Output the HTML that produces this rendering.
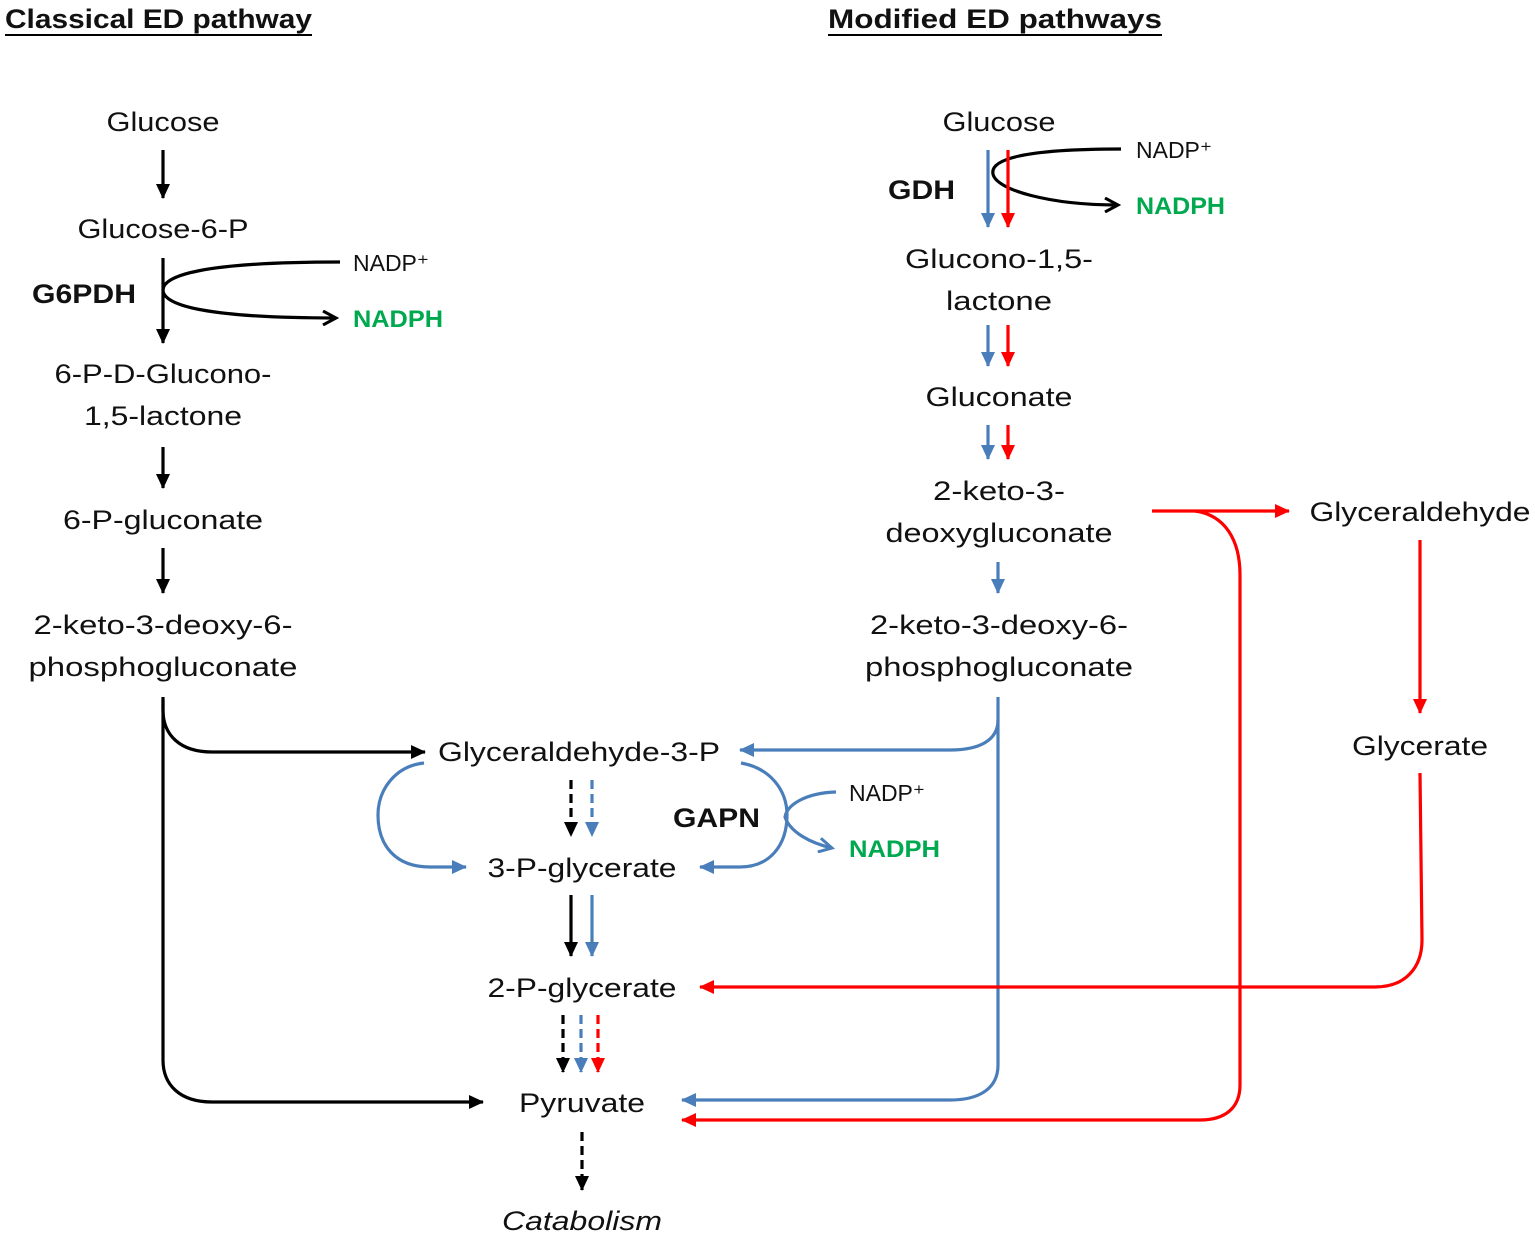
<!DOCTYPE html>
<html><head><meta charset="utf-8"><style>
html,body{margin:0;padding:0;background:#fff}
svg{display:block}
text{font-family:"Liberation Sans",sans-serif;font-size:27px;fill:#111}
.b{font-weight:bold}
.s{font-size:23px}
.g{fill:#00a84f;font-weight:bold;font-size:24px}
</style></head><body>
<svg width="1535" height="1236" viewBox="0 0 1535 1236" xmlns="http://www.w3.org/2000/svg">
<defs>
<marker id="ak" markerWidth="16" markerHeight="16" refX="14" refY="7" orient="auto" markerUnits="userSpaceOnUse"><path d="M0,0 L15,7 L0,14 z" fill="#000"/></marker>
<marker id="ab" markerWidth="16" markerHeight="16" refX="14" refY="7" orient="auto" markerUnits="userSpaceOnUse"><path d="M0,0 L15,7 L0,14 z" fill="#4a7ebb"/></marker>
<marker id="ar" markerWidth="16" markerHeight="16" refX="14" refY="7" orient="auto" markerUnits="userSpaceOnUse"><path d="M0,0 L15,7 L0,14 z" fill="#f00"/></marker>
<marker id="ok" markerWidth="18" markerHeight="16" refX="15" refY="8" orient="auto" markerUnits="userSpaceOnUse"><path d="M2,1 L15,8 L2,15" fill="none" stroke="#000" stroke-width="3"/></marker>
<marker id="ob" markerWidth="18" markerHeight="16" refX="15" refY="8" orient="auto" markerUnits="userSpaceOnUse"><path d="M2,1 L15,8 L2,15" fill="none" stroke="#4a7ebb" stroke-width="3"/></marker>
</defs>

<text x="5" y="28" class="b" textLength="307" lengthAdjust="spacingAndGlyphs">Classical ED pathway</text>
<line x1="5" y1="35" x2="312" y2="35" stroke="#000" stroke-width="2"/>
<text x="828" y="28" class="b" textLength="334" lengthAdjust="spacingAndGlyphs">Modified ED pathways</text>
<line x1="828" y1="35" x2="1162" y2="35" stroke="#000" stroke-width="2"/>

<g text-anchor="middle">
<text x="163" y="131" textLength="113" lengthAdjust="spacingAndGlyphs">Glucose</text>
<text x="163" y="238" textLength="171" lengthAdjust="spacingAndGlyphs">Glucose-6-P</text>
<text x="163" y="383" textLength="217" lengthAdjust="spacingAndGlyphs">6-P-D-Glucono-</text>
<text x="163" y="425" textLength="158" lengthAdjust="spacingAndGlyphs">1,5-lactone</text>
<text x="163" y="529" textLength="200" lengthAdjust="spacingAndGlyphs">6-P-gluconate</text>
<text x="163" y="634" textLength="259" lengthAdjust="spacingAndGlyphs">2-keto-3-deoxy-6-</text>
<text x="163" y="676" textLength="269" lengthAdjust="spacingAndGlyphs">phosphogluconate</text>
<text x="579" y="761" textLength="282" lengthAdjust="spacingAndGlyphs">Glyceraldehyde-3-P</text>
<text x="582" y="877" textLength="189" lengthAdjust="spacingAndGlyphs">3-P-glycerate</text>
<text x="582" y="997" textLength="189" lengthAdjust="spacingAndGlyphs">2-P-glycerate</text>
<text x="582" y="1112" textLength="126" lengthAdjust="spacingAndGlyphs">Pyruvate</text>
<text x="582" y="1230" font-style="italic" textLength="160" lengthAdjust="spacingAndGlyphs">Catabolism</text>
<text x="999" y="131" textLength="113" lengthAdjust="spacingAndGlyphs">Glucose</text>
<text x="999" y="268" textLength="188" lengthAdjust="spacingAndGlyphs">Glucono-1,5-</text>
<text x="999" y="310" textLength="106" lengthAdjust="spacingAndGlyphs">lactone</text>
<text x="999" y="406" textLength="147" lengthAdjust="spacingAndGlyphs">Gluconate</text>
<text x="999" y="500" textLength="132" lengthAdjust="spacingAndGlyphs">2-keto-3-</text>
<text x="999" y="542" textLength="227" lengthAdjust="spacingAndGlyphs">deoxygluconate</text>
<text x="999" y="634" textLength="258" lengthAdjust="spacingAndGlyphs">2-keto-3-deoxy-6-</text>
<text x="999" y="676" textLength="268" lengthAdjust="spacingAndGlyphs">phosphogluconate</text>
<text x="1420" y="521" textLength="221" lengthAdjust="spacingAndGlyphs">Glyceraldehyde</text>
<text x="1420" y="755" textLength="136" lengthAdjust="spacingAndGlyphs">Glycerate</text>
</g>

<text x="32" y="303" class="b" textLength="104" lengthAdjust="spacingAndGlyphs">G6PDH</text>
<text x="353" y="271" class="s">NADP⁺</text>
<text x="353" y="327" class="g" textLength="90" lengthAdjust="spacingAndGlyphs">NADPH</text>
<text x="888" y="199" class="b" textLength="67" lengthAdjust="spacingAndGlyphs">GDH</text>
<text x="1136" y="158" class="s">NADP⁺</text>
<text x="1136" y="214" class="g" textLength="89" lengthAdjust="spacingAndGlyphs">NADPH</text>
<text x="673" y="827" class="b" textLength="87" lengthAdjust="spacingAndGlyphs">GAPN</text>
<text x="849" y="801" class="s">NADP⁺</text>
<text x="849" y="857" class="g" textLength="91" lengthAdjust="spacingAndGlyphs">NADPH</text>

<g fill="none" stroke-width="3.2">
<g stroke="#000">
<line x1="163" y1="150" x2="163" y2="198" marker-end="url(#ak)"/>
<line x1="163" y1="258" x2="163" y2="343" marker-end="url(#ak)"/>
<line x1="163" y1="447" x2="163" y2="488" marker-end="url(#ak)"/>
<line x1="163" y1="548" x2="163" y2="593" marker-end="url(#ak)"/>
<path d="M340,262 C200,262 163,276 163,290 C163,306 210,318 336,318" marker-end="url(#ok)"/>
<path d="M163,697 L163,710 C163,735 180,752 212,752 L425,752" marker-end="url(#ak)"/>
<path d="M163,700 L163,1060 C163,1085 180,1102 212,1102 L483,1102" marker-end="url(#ak)"/>
<line x1="571" y1="780" x2="571" y2="836" stroke-dasharray="9,5" marker-end="url(#ak)"/>
<line x1="571" y1="895" x2="571" y2="956" marker-end="url(#ak)"/>
<line x1="563" y1="1015" x2="563" y2="1072" stroke-dasharray="9,5" marker-end="url(#ak)"/>
<line x1="582" y1="1132" x2="582" y2="1190" stroke-dasharray="9,5" marker-end="url(#ak)"/>
<path d="M1121,149 C1020,149 990,160 993,174 C996,190 1050,205 1118,205" marker-end="url(#ok)"/>
</g>
<g stroke="#4a7ebb">
<line x1="988" y1="150" x2="988" y2="227" marker-end="url(#ab)"/>
<line x1="988" y1="325" x2="988" y2="366" marker-end="url(#ab)"/>
<line x1="988" y1="425" x2="988" y2="459" marker-end="url(#ab)"/>
<line x1="998" y1="562" x2="998" y2="593" marker-end="url(#ab)"/>
<path d="M998,697 L998,720 C998,740 980,750 950,750 L740,750" marker-end="url(#ab)"/>
<path d="M998,720 L998,1065 C998,1088 980,1100 950,1100 L682,1100" marker-end="url(#ab)"/>
<path d="M424,763 C395,766 378,790 378,815 C378,845 395,867 430,867 L466,867" marker-end="url(#ab)"/>
<path d="M741,763 C770,768 787,790 787,815 C787,845 770,867 740,867 L700,867" marker-end="url(#ab)"/>
<path d="M836,792 C805,793 787,805 785,817 C790,832 810,843 832,848" marker-end="url(#ob)"/>
<line x1="592" y1="780" x2="592" y2="836" stroke-dasharray="9,5" marker-end="url(#ab)"/>
<line x1="592" y1="895" x2="592" y2="956" marker-end="url(#ab)"/>
<line x1="581" y1="1015" x2="581" y2="1072" stroke-dasharray="9,5" marker-end="url(#ab)"/>
</g>
<g stroke="#f00">
<line x1="1008" y1="150" x2="1008" y2="227" marker-end="url(#ar)"/>
<line x1="1008" y1="325" x2="1008" y2="366" marker-end="url(#ar)"/>
<line x1="1008" y1="425" x2="1008" y2="459" marker-end="url(#ar)"/>
<line x1="1152" y1="511" x2="1289" y2="511" marker-end="url(#ar)"/>
<path d="M1195,511 C1225,515 1240,540 1240,575 L1240,1085 C1240,1108 1225,1120 1200,1120 L682,1120" marker-end="url(#ar)"/>
<line x1="1420" y1="540" x2="1420" y2="713" marker-end="url(#ar)"/>
<path d="M1420,773 L1422,940 C1422,968 1405,987 1375,987 L700,987" marker-end="url(#ar)"/>
<line x1="598" y1="1015" x2="598" y2="1072" stroke-dasharray="9,5" marker-end="url(#ar)"/>
</g>
</g>
</svg>
</body></html>
